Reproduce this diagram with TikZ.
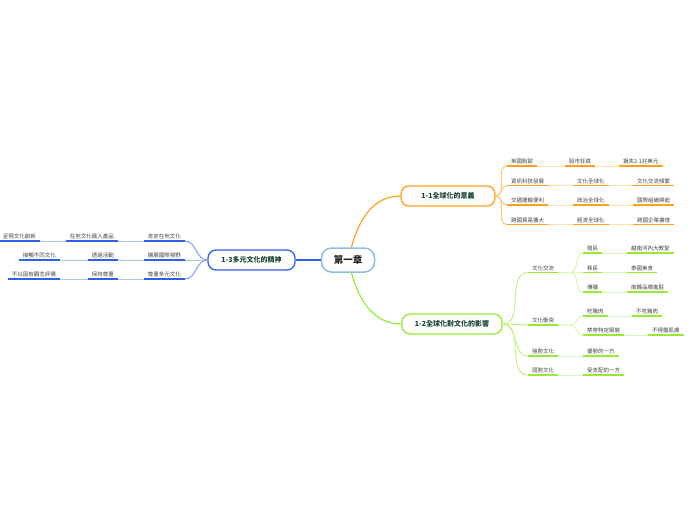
\documentclass[tikz,border=0pt]{standalone}
\usepackage{fontspec}
\setmainfont{Noto Sans CJK TC}
\usepackage{tikz}

\definecolor{orangeln}{RGB}{255,160,30}
\definecolor{greenln}{RGB}{150,235,50}
\definecolor{blueln}{RGB}{45,95,235}
\definecolor{rootln}{RGB}{140,190,230}
\definecolor{topictext}{RGB}{25,65,55}

\begin{document}
\begin{tikzpicture}[
    x=1pt, y=-1pt,
    root/.style={rectangle, draw=rootln, line width=1.5pt, fill=white, rounded corners=10pt, minimum height=24pt, font=\fontsize{9.5}{11}\selectfont\bfseries, text=black!85},
    topic/.style={rectangle, draw=#1, line width=1.3pt, fill=white, rounded corners=8pt, minimum height=20pt, font=\fontsize{7}{8.5}\selectfont\bfseries, text=topictext},
    leaf/.style={inner xsep=4pt, inner ysep=1.8pt, font=\fontsize{5.5}{6.5}\selectfont, text=black!75, append after command={(\tikzlastnode.south west) edge[draw=#1, line width=1.6pt] (\tikzlastnode.south east)}},
    link/.style={draw=#1, line width=1.2pt},
    spine/.style={draw=#1!60, line width=1pt},
    faint/.style={draw=#1!35, line width=1pt}
]
\useasboundingbox (0,0) rectangle (697,520);

% Central topic and main topics
\node[root, minimum width=53pt] (root) at (348,260) {第一章};
\node[topic=orangeln, minimum width=94pt] (sec11) at (448,196) {1-1全球化的意義};
\node[topic=greenln, minimum width=100pt] (sec12) at (452,324) {1-2全球化對文化的影響};
\node[topic=blueln, minimum width=87pt] (sec13) at (251.5,260) {1-3多元文化的精神};

% 1-1 (right, top)
\node[leaf=orangeln, anchor=south west] (brexit) at (507,166) {英國脫歐};
\node[leaf=orangeln, anchor=south west] (stock) at (565,166) {股市狂跌};
\node[leaf=orangeln, anchor=south west] (loss) at (619,166) {損失2.1兆美元};

\node[leaf=orangeln, anchor=south west] (infotech) at (507,185.5) {資訊科技發展};
\node[leaf=orangeln, anchor=south west] (cultglob) at (573,185.5) {文化全球化};
\node[leaf=orangeln, anchor=south west] (exchange) at (633,185.5) {文化交流頻繁};

\node[leaf=orangeln, anchor=south west] (transport) at (507,205) {交通運輸便利};
\node[leaf=orangeln, anchor=south west] (poliglob) at (573,205) {政治全球化};
\node[leaf=orangeln, anchor=south west] (intlorg) at (633,205) {國際組織興起};

\node[leaf=orangeln, anchor=south west] (trade) at (507,224.5) {跨國貿易擴大};
\node[leaf=orangeln, anchor=south west] (econglob) at (573,224.5) {經濟全球化};
\node[leaf=orangeln, anchor=south west] (corp) at (633,224.5) {跨國企業擴增};

% 1-2 (right, bottom)
\node[leaf=greenln, anchor=south west] (cultexch) at (528,272.5) {文化交流};
\node[leaf=greenln, anchor=south west] (conflict) at (528,325) {文化衝突};
\node[leaf=greenln, anchor=south west] (strong) at (528,356) {強勢文化};
\node[leaf=greenln, anchor=south west] (weak) at (528,375) {弱勢文化};

\node[leaf=greenln, anchor=south west] (colony) at (583,253) {殖民};
\node[leaf=greenln, anchor=south west] (church) at (627,253) {越南河內大教堂};
\node[leaf=greenln, anchor=south west] (migrate) at (583,272.5) {移民};
\node[leaf=greenln, anchor=south west] (thaifood) at (627,272.5) {泰國美食};
\node[leaf=greenln, anchor=south west] (spread) at (583,292) {傳播};
\node[leaf=greenln, anchor=south west] (korea) at (627,292) {南韓品牌進駐};

\node[leaf=greenln, anchor=south west] (pork) at (583,316) {吃豬肉};
\node[leaf=greenln, anchor=south west] (nopork) at (632,316) {不吃豬肉};
\node[leaf=greenln, anchor=south west] (dress) at (583,335) {禁穿特定服裝};
\node[leaf=greenln, anchor=south west] (skin) at (648,335) {不得露肌膚};

\node[leaf=greenln, anchor=south west] (dominant) at (583,356) {優勢的一方};
\node[leaf=greenln, anchor=south west] (ruled) at (583,375) {受支配的一方};

% 1-3 (left)
\node[leaf=blueln, anchor=south east] (affirm) at (185,241) {肯定在地文化};
\node[leaf=blueln, anchor=south east] (product) at (118,241) {在地文化融入產品};
\node[leaf=blueln, anchor=south east] (innovate) at (40,241) {呈現文化創新};

\node[leaf=blueln, anchor=south east] (widen) at (185,260) {擴展國際視野};
\node[leaf=blueln, anchor=south east] (activity) at (118,260) {透過活動};
\node[leaf=blueln, anchor=south east] (contact) at (60,260) {接觸不同文化};

\node[leaf=blueln, anchor=south east] (respect) at (185,279) {尊重多元文化};
\node[leaf=blueln, anchor=south east] (keep) at (118,279) {保持尊重};
\node[leaf=blueln, anchor=south east] (judge) at (60,279) {不以固有觀念評價};

% Root links
\draw[link=orangeln] (root) to[out=75,in=180] (sec11);
\draw[link=greenln] (root) to[out=-75,in=180] (sec12);
\draw[link=blueln] (root) -- (sec13);

% Brackets from main topics
\foreach \n in {brexit,infotech,transport,trade}
    \draw[spine=orangeln] (sec11.east) to[out=0,in=180] (\n.south west);
\foreach \n in {cultexch,conflict,strong,weak}
    \draw[spine=greenln] (sec12.east) to[out=0,in=180] (\n.south west);
\foreach \n in {affirm,widen,respect}
    \draw[spine=blueln] (sec13.west) to[out=180,in=0] (\n.south east);

% Sub brackets
\foreach \n in {colony,migrate,spread}
    \draw[faint=greenln] (cultexch.south east) -- ++(12,0) to[out=0,in=180] (\n.south west);
\foreach \n in {pork,dress}
    \draw[faint=greenln] (conflict.south east) -- ++(12,0) to[out=0,in=180] (\n.south west);

% Row links
\draw[faint=orangeln] (brexit.south east) -- (stock.south west);
\draw[faint=orangeln] (stock.south east) -- (loss.south west);
\draw[faint=orangeln] (infotech.south east) -- (cultglob.south west);
\draw[faint=orangeln] (cultglob.south east) -- (exchange.south west);
\draw[faint=orangeln] (transport.south east) -- (poliglob.south west);
\draw[faint=orangeln] (poliglob.south east) -- (intlorg.south west);
\draw[faint=orangeln] (trade.south east) -- (econglob.south west);
\draw[faint=orangeln] (econglob.south east) -- (corp.south west);

\draw[faint=greenln] (colony.south east) -- (church.south west);
\draw[faint=greenln] (migrate.south east) -- (thaifood.south west);
\draw[faint=greenln] (spread.south east) -- (korea.south west);
\draw[faint=greenln] (pork.south east) -- (nopork.south west);
\draw[faint=greenln] (dress.south east) -- (skin.south west);
\draw[faint=greenln] (strong.south east) -- (dominant.south west);
\draw[faint=greenln] (weak.south east) -- (ruled.south west);

\draw[faint=blueln] (affirm.south west) -- (product.south east);
\draw[faint=blueln] (product.south west) -- (innovate.south east);
\draw[faint=blueln] (widen.south west) -- (activity.south east);
\draw[faint=blueln] (activity.south west) -- (contact.south east);
\draw[faint=blueln] (respect.south west) -- (keep.south east);
\draw[faint=blueln] (keep.south west) -- (judge.south east);

\end{tikzpicture}
\end{document}
